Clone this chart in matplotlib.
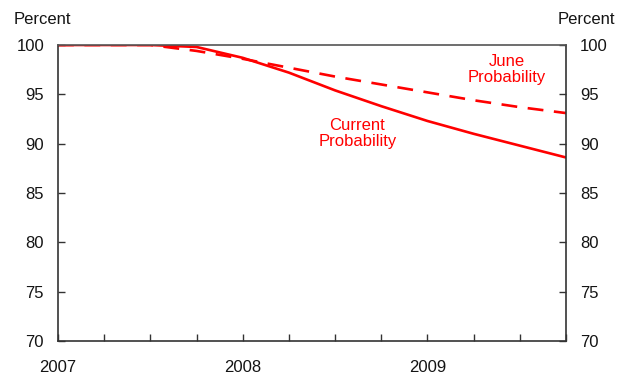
import matplotlib
matplotlib.use("Agg")
import matplotlib.pyplot as plt

plt.rcParams['font.family'] = ['Liberation Sans', 'DejaVu Sans']

quarters = [2007.0, 2007.25, 2007.5, 2007.75, 2008.0, 2008.25, 2008.5, 2008.75,
            2009.0, 2009.25, 2009.5, 2009.75]
current_prob = [100, 100, 100, 99.8, 98.7, 97.2, 95.4, 93.8, 92.3, 91.0, 89.8, 88.6]
june_prob = [100, 100, 100, 99.4, 98.6, 97.7, 96.8, 96.0, 95.2, 94.4, 93.7, 93.1]
year_labels = ['2007', '2008', '2009']
year_ticks = [2007, 2008, 2009]
y_ticks = [70, 75, 80, 85, 90, 95, 100]

red = '#ff0000'
txt = '#141414'
spine = '#333333'
fs = 12

fig = plt.figure(figsize=(6.26, 3.75), dpi=100)
ax = fig.add_axes([58/626, 34/375, 508/626, 296/375])

ax.plot(quarters, current_prob, color=red, lw=1.9, solid_capstyle='butt')
ax.plot(quarters, june_prob, color=red, lw=1.9, dashes=(6, 4))

ax.set_xlim(2007.0, 2009.75)
ax.set_ylim(70, 100)

ax.set_yticks(y_ticks)
ax.tick_params(axis='y', which='both', direction='in', length=5, width=1,
               colors=spine, labelcolor=txt, labelsize=fs, left=True, right=True,
               labelleft=True, labelright=True, pad=10)
ax.set_xticks([2007 + 0.25 * i for i in range(12)], minor=True)
ax.set_xticks(year_ticks)
ax.set_xticklabels(year_labels)
ax.tick_params(axis='x', which='both', direction='in', length=5, width=1,
               colors=spine, labelcolor=txt, labelsize=fs, pad=14)
ax.tick_params(axis='x', which='minor', bottom=True)

for s in ax.spines.values():
    s.set_color(spine)
    s.set_linewidth(1.2)
ax.spines['top'].set_color('#555555')

fig.text(42/626, 1 - 19/375, 'Percent', ha='center', va='center',
         fontsize=fs, color=txt)
fig.text(586/626, 1 - 19/375, 'Percent', ha='center', va='center',
         fontsize=fs, color=txt)

ax.text(2008.62, 91.0, 'Current\nProbability', color=red, ha='center', va='center',
        fontsize=fs, linespacing=1.1)
ax.text(2009.43, 97.5, 'June\nProbability', color=red, ha='center', va='center',
        fontsize=fs, linespacing=1.1)

fig.savefig('out.png', dpi=100)
